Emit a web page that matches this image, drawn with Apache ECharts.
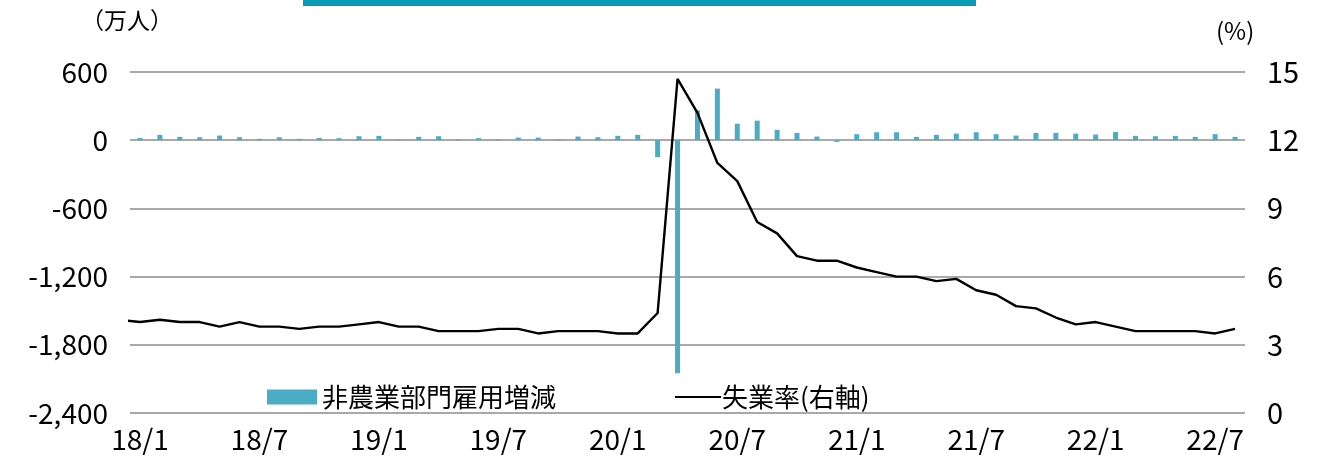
<!DOCTYPE html>
<html>
<head>
<meta charset="utf-8">
<script src="https://cdn.jsdelivr.net/npm/echarts@6/dist/echarts.min.js"></script>
<style>
html,body{margin:0;padding:0;background:#fff;}
#c{width:1319px;height:457px;}
</style>
</head>
<body>
<div id="c"></div>
<script>
// Months Jan 2018 - Aug 2022
const categories = [
  '18/1','18/2','18/3','18/4','18/5','18/6','18/7','18/8','18/9','18/10','18/11','18/12',
  '19/1','19/2','19/3','19/4','19/5','19/6','19/7','19/8','19/9','19/10','19/11','19/12',
  '20/1','20/2','20/3','20/4','20/5','20/6','20/7','20/8','20/9','20/10','20/11','20/12',
  '21/1','21/2','21/3','21/4','21/5','21/6','21/7','21/8','21/9','21/10','21/11','21/12',
  '22/1','22/2','22/3','22/4','22/5','22/6','22/7','22/8'
];
// Nonfarm payroll change (10k persons)
const payrolls = [
  20, 47, 29, 26, 41, 26, 12, 26, 12, 20, 18, 35,
  38, 9, 29, 35, 9, 18, 9, 23, 23, 9, 32, 26,
  38, 47, -149, -2050, 263, 454, 145, 172, 91, 64, 32, -15,
  53, 70, 70, 29, 47, 58, 70, 53, 41, 64, 64, 58,
  50, 73, 38, 35, 38, 29, 53, 29
];
// Unemployment rate (%), Jan 2018 - Aug 2022
const unemployment = [
  4.0, 4.1, 4.0, 4.0, 3.8, 4.0, 3.8, 3.8, 3.7, 3.8, 3.8, 3.9,
  4.0, 3.8, 3.8, 3.6, 3.6, 3.6, 3.7, 3.7, 3.5, 3.6, 3.6, 3.6,
  3.5, 3.5, 4.4, 14.7, 13.2, 11.0, 10.2, 8.4, 7.9, 6.9, 6.7, 6.7,
  6.4, 6.2, 6.0, 6.0, 5.8, 5.9, 5.4, 5.2, 4.7, 4.6, 4.2, 3.9,
  4.0, 3.8, 3.6, 3.6, 3.6, 3.6, 3.5, 3.7
];
// Unemployment rate for the month before the window (Dec 2017); the line runs in from the plot edge
const unemploymentPrev = [4.1];
const seriesNames = ['非農業部門雇用増減', '失業率(右軸)'];
const leftUnit = '（万人）';
const rightUnit = '(%)';

const lineData = [[-1, unemploymentPrev[0]]].concat(unemployment.map((v, i) => [i, v]));

const FONT = '"Noto Sans CJK JP", "Noto Sans", sans-serif';
const chart = echarts.init(document.getElementById('c'), null, {renderer: 'canvas'});
chart.setOption({
  animation: false,
  backgroundColor: '#fff',
  textStyle: {fontFamily: FONT},
  grid: {left: 130, right: 74, top: 72, bottom: 44, containLabel: false},
  graphic: [
    {type: 'rect', left: 303, top: 0, shape: {width: 673, height: 6}, style: {fill: '#079bb5'}},
    {type: 'text', left: 81, top: 9, style: {text: leftUnit, font: '23px ' + FONT, fill: '#000'}},
    {type: 'text', left: 1216, top: 19, style: {text: rightUnit, font: '24px ' + FONT, fill: '#000'}}
  ],
  legend: [
    {
      data: [seriesNames[0]], left: 262, top: 379, itemWidth: 50, itemHeight: 15,
      icon: 'rect', textStyle: {fontSize: 26, color: '#000', fontFamily: FONT}, itemGap: 6,
      selectedMode: false
    },
    {
      data: [seriesNames[1]], left: 670, top: 379, itemWidth: 46, itemHeight: 2,
      icon: 'rect', textStyle: {fontSize: 26, color: '#000', fontFamily: FONT, padding: [0,0,0,-4]},
      selectedMode: false, itemStyle: {color: '#000'}
    }
  ],
  xAxis: [
    {
      type: 'category',
      data: categories,
      boundaryGap: true,
      axisLine: {show: false},
      axisTick: {show: false},
      axisLabel: {interval: 5, fontSize: 28, color: '#000', margin: 12, fontFamily: FONT}
    },
    {
      type: 'value', min: -0.5, max: categories.length - 0.5, show: false
    }
  ],
  yAxis: [
    {
      type: 'value', min: -2400, max: 600, interval: 600,
      axisLine: {show: false}, axisTick: {show: false},
      splitLine: {lineStyle: {color: '#8c8c8c', width: 1.5}},
      axisLabel: {
        fontSize: 28, color: '#000', margin: 22, fontFamily: FONT,
        formatter: v => v.toLocaleString('en-US')
      }
    },
    {
      type: 'value', min: 0, max: 15, interval: 3, position: 'right',
      axisLine: {show: false}, axisTick: {show: false}, splitLine: {show: false},
      axisLabel: {fontSize: 29, color: '#000', margin: 22, fontFamily: FONT}
    }
  ],
  series: [
    {
      name: seriesNames[0], type: 'bar', data: payrolls, xAxisIndex: 0, yAxisIndex: 0,
      barWidth: 5, itemStyle: {color: '#4bacc6'}
    },
    {
      name: seriesNames[1], type: 'line', data: lineData, xAxisIndex: 1, yAxisIndex: 1,
      clip: true, showSymbol: false, symbol: 'none', lineStyle: {color: '#000', width: 2.4},
      itemStyle: {color: '#000'}
    }
  ]
});
</script>
</body>
</html>
